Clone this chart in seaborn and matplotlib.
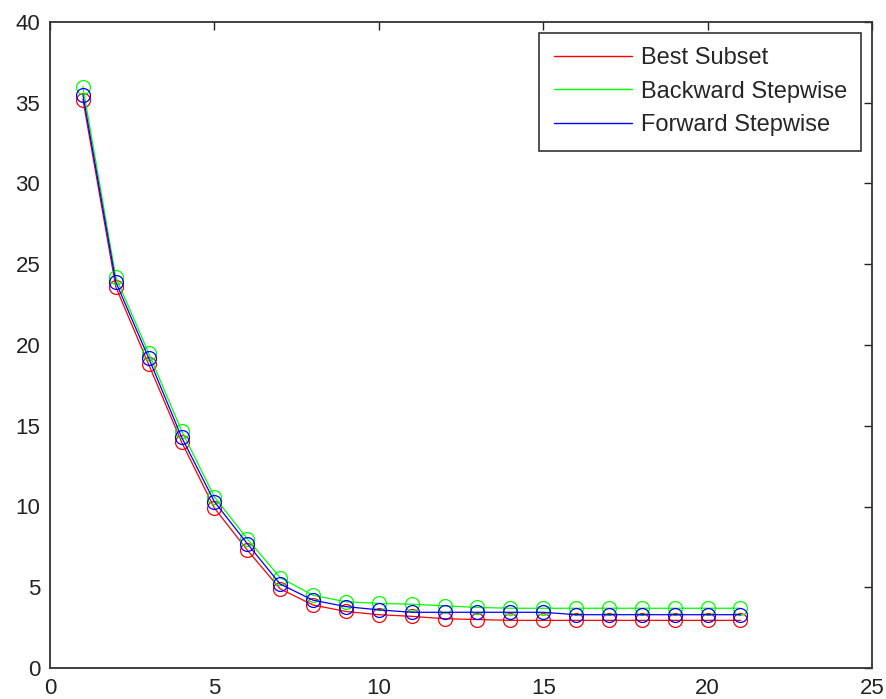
import numpy as np
import pandas as pd
import matplotlib
matplotlib.use('Agg')
import matplotlib.pyplot as plt
import seaborn as sns
from matplotlib.lines import Line2D

# Values
n_vars = list(range(1, 22))
best_subset = [35.2, 23.6, 18.8, 14.0, 9.9, 7.3, 4.9, 3.9, 3.5, 3.3, 3.2,
               3.05, 3.0, 2.95, 2.95, 2.95, 2.95, 2.95, 2.95, 2.95, 2.95]
backward_stepwise = [36.0, 24.2, 19.5, 14.7, 10.6, 8.0, 5.6, 4.5, 4.1, 4.0, 3.95,
                     3.85, 3.75, 3.7, 3.7, 3.7, 3.7, 3.7, 3.7, 3.7, 3.7]
forward_stepwise = [35.5, 23.9, 19.2, 14.3, 10.3, 7.7, 5.2, 4.2, 3.8, 3.6, 3.45,
                    3.45, 3.45, 3.45, 3.45, 3.3, 3.3, 3.3, 3.3, 3.3, 3.3]
series_names = ['Best Subset', 'Backward Stepwise', 'Forward Stepwise']
series_colors = ['#ff0000', '#00ff00', '#0000ff']

df = pd.DataFrame({
    'k': n_vars * 3,
    'err': best_subset + backward_stepwise + forward_stepwise,
    'method': [m for m in series_names for _ in n_vars],
})

sns.set_style('white')
plt.rcParams['font.family'] = ['Liberation Sans', 'DejaVu Sans']

fig = plt.figure(figsize=(8.87, 6.99), dpi=100)
ax = fig.add_axes([50 / 887, 31 / 699, 822 / 887, 646 / 699])

for name, color in zip(series_names, series_colors):
    sub = df[df['method'] == name]
    sns.lineplot(data=sub, x='k', y='err', ax=ax, color=color, linewidth=0.9,
                 marker='o', markersize=10, markerfacecolor='none',
                 markeredgecolor=color, markeredgewidth=0.9, legend=False)

ax.set_xlim(0, 25)
ax.set_ylim(0, 40)
ax.set_xticks([0, 5, 10, 15, 20, 25])
ax.set_yticks(range(0, 41, 5))
ax.set_xlabel('')
ax.set_ylabel('')
ax.tick_params(direction='in', length=6, width=1, top=True, right=True,
               labelsize=16, colors='#222222', pad=7)
for sp in ax.spines.values():
    sp.set_visible(True)
    sp.set_color('#333333')
    sp.set_linewidth(1.3)

handles = [Line2D([0], [0], color=c, linewidth=1) for c in series_colors]
leg = ax.legend(handles, series_names, loc='upper right', fontsize=17,
                frameon=True, fancybox=False, edgecolor='black',
                borderaxespad=0.45, handlelength=3.3, handletextpad=0.4,
                labelspacing=0.5, borderpad=0.6)
leg.get_frame().set_linewidth(1.2)

fig.savefig('out.png', dpi=100)
